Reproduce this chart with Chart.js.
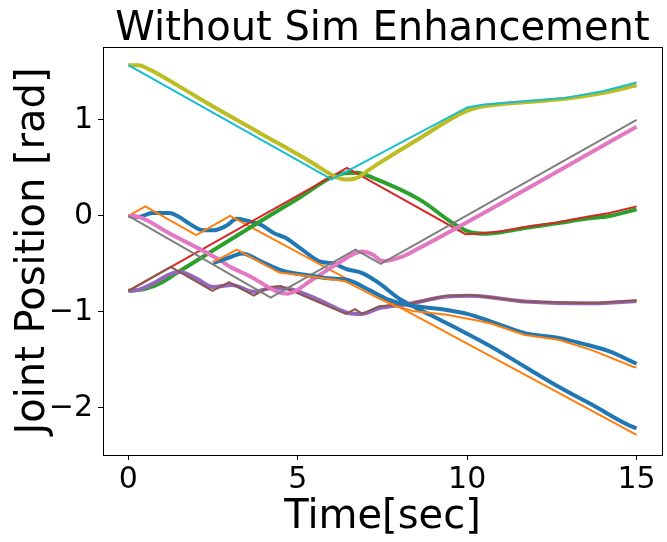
<!DOCTYPE html>
<html>
<head>
<meta charset="utf-8">
<script src="https://cdn.jsdelivr.net/npm/chart.js"></script>
<style>
  body { margin: 0; background: #fff; }
  canvas { display: block; }
</style>
</head>
<body>
<canvas id="myChart" width="667" height="542"></canvas>
<script>
// joint 1
const act1T = [0, 0.3, 0.7, 1.2, 1.5, 1.8, 2.2, 2.5, 2.9, 3.2, 3.5, 3.9, 4.3, 4.65, 5.05, 5.7, 6.0, 6.45, 6.9, 7.4, 7.95, 8.4, 8.9, 9.8, 10.7, 11.7, 12.7, 13.7, 14.9, 15];
const act1V = [0, -0.01, 0.03, 0.03, -0.01, -0.08, -0.15, -0.15, -0.10, -0.03, -0.05, -0.09, -0.18, -0.23, -0.33, -0.48, -0.49, -0.555, -0.595, -0.70, -0.85, -0.94, -1.03, -1.19, -1.36, -1.57, -1.78, -1.97, -2.20, -2.21];
const tgt1T = [0, 0.5, 2, 3, 15];
const tgt1V = [0, 0.1, -0.2, 0, -2.28];
// joint 2
const act2T = [0, 0.5, 1, 1.4, 5, 6.3, 6.75, 7.2, 8.6, 9.6, 10.1, 10.6, 11.0, 11.8, 12.6, 13.5, 14.2, 15];
const act2V = [-0.78, -0.76, -0.69, -0.60, 0.18, 0.44, 0.45, 0.40, 0.17, -0.08, -0.17, -0.185, -0.17, -0.12, -0.08, -0.03, 0.0, 0.07];
const tgt2T = [0, 6.45, 9.95, 10.3, 11.0, 11.8, 12.6, 13.5, 14.2, 15];
const tgt2V = [-0.78, 0.5, -0.19, -0.185, -0.16, -0.11, -0.07, -0.01, 0.03, 0.10];
// joint 3
const act3T = [0, 0.3, 0.8, 1.2, 1.5, 2.0, 2.5, 3.05, 3.7, 4.25, 4.75, 5.4, 5.95, 6.5, 6.9, 7.4, 8.2, 9.4, 10.1, 11.7, 13.7, 15];
const act3V = [-0.78, -0.77, -0.69, -0.61, -0.58, -0.65, -0.74, -0.72, -0.79, -0.75, -0.76, -0.84, -0.93, -1.01, -1.02, -0.96, -0.92, -0.84, -0.83, -0.89, -0.91, -0.885];
const tgt3T = [0, 1.25, 2.48, 2.97, 3.7, 4.15, 4.5, 6.42, 6.69, 6.9, 7.4, 8.3, 9.4, 10.2, 11.7, 13.7, 15];
const tgt3V = [-0.78, -0.53, -0.78, -0.69, -0.83, -0.74, -0.73, -1.02, -0.97, -1.02, -0.94, -0.915, -0.83, -0.825, -0.89, -0.91, -0.88];
// joint 4
const act4T = [0, 0.3, 1.2, 2.7, 3.0, 3.6, 4.4, 4.7, 5.4, 6.2, 6.9, 7.2, 7.5, 8.1, 8.5, 15];
const act4V = [0, -0.01, -0.18, -0.46, -0.53, -0.63, -0.79, -0.81, -0.67, -0.49, -0.37, -0.40, -0.47, -0.42, -0.35, 0.93];
const tgt4T = [0, 4.2, 6.7, 7.45, 15];
const tgt4V = [0, -0.85, -0.35, -0.5, 1.0];
// joint 5
const act5T = [0, 0.3, 0.6, 1.5, 2.4, 3.9, 5.35, 6.1, 6.4, 6.7, 7.1, 7.4, 8.6, 9.95, 10.45, 11.5, 12.9, 14, 15];
const act5V = [1.57, 1.57, 1.53, 1.35, 1.16, 0.86, 0.57, 0.41, 0.38, 0.39, 0.48, 0.55, 0.81, 1.09, 1.14, 1.18, 1.22, 1.28, 1.36];
const tgt5T = [0, 6.0, 10, 10.5, 11.5, 12.9, 14, 15];
const tgt5V = [1.57, 0.38, 1.13, 1.16, 1.19, 1.23, 1.3, 1.39];
// joint 6
const act6T = [2.5, 3.0, 3.35, 3.95, 4.55, 5.15, 5.9, 6.5, 7.1, 7.7, 8.3, 9.4, 10.0, 10.7, 11.7, 12.7, 13.4, 14.2, 15];
const act6V = [-0.49, -0.43, -0.39, -0.48, -0.57, -0.61, -0.65, -0.67, -0.77, -0.875, -0.93, -0.98, -1.02, -1.10, -1.22, -1.27, -1.33, -1.41, -1.54];
const tgt6T = [2.5, 3.2, 4.45, 5.4, 6.4, 6.9, 7.4, 7.9, 8.4, 9.4, 10.3, 10.7, 11.7, 12.7, 13.7, 14.9, 15];
const tgt6V = [-0.48, -0.35, -0.59, -0.63, -0.68, -0.77, -0.86, -0.94, -0.99, -1.03, -1.09, -1.12, -1.24, -1.29, -1.40, -1.57, -1.58];

const xTicks = [0, 5, 10, 15];
const yTicks = [-2, -1, 0, 1];

function pts(t, v) {
    return t.map((x, i) => ({x: x, y: v[i]}));
}

// matplotlib order: actual, target per joint, tab10 colours
const series = [
    [act1T, act1V, '#1f77b4', true],
    [tgt1T, tgt1V, '#ff7f0e', false],
    [act2T, act2V, '#2ca02c', true],
    [tgt2T, tgt2V, '#d62728', false],
    [act3T, act3V, '#9467bd', true],
    [tgt3T, tgt3V, '#8c564b', false],
    [act4T, act4V, '#e377c2', true],
    [tgt4T, tgt4V, '#7f7f7f', false],
    [act5T, act5V, '#bcbd22', true],
    [tgt5T, tgt5V, '#17becf', false],
    [act6T, act6V, '#1f77b4', true],
    [tgt6T, tgt6V, '#ff7f0e', false],
];

const datasets = series.map((s, i) => ({
    data: pts(s[0], s[1]),
    borderColor: s[2],
    borderWidth: s[3] ? 4 : 2,
    pointRadius: 0,
    fill: false,
    tension: 0,
    cubicInterpolationMode: s[3] ? 'monotone' : 'default',
    order: series.length - i, // later ones on top
}));

Chart.defaults.font.family = 'DejaVu Sans';
Chart.defaults.color = '#000';

const frame = {
    id: 'frame',
    afterDraw(chart) {
        const {ctx, chartArea: a} = chart;
        ctx.save();
        ctx.strokeStyle = '#000';
        ctx.lineWidth = 1;
        ctx.strokeRect(Math.round(a.left) + 0.5, Math.round(a.top) + 0.5, Math.round(a.right - a.left), Math.round(a.bottom - a.top));
        ctx.restore();
    }
};

const minus = v => (v < 0 ? '\u2212' + Math.abs(v) : '' + v);

new Chart(document.getElementById('myChart'), {
    type: 'line',
    data: {datasets: datasets},
    plugins: [frame],
    options: {
        responsive: false,
        animation: false,
        layout: {padding: {left: 0, right: 5, top: 0, bottom: 0}},
        plugins: {
            legend: {display: false},
            tooltip: {enabled: false},
            title: {
                display: true,
                text: 'Without Sim Enhancement',
                fullSize: false,
                color: '#000',
                font: {size: 40, weight: 'normal', lineHeight: 0.8},
                padding: {top: 14, bottom: 1}
            }
        },
        scales: {
            x: {
                type: 'linear',
                min: -0.75,
                max: 15.75,
                afterBuildTicks: s => { s.ticks = xTicks.map(v => ({value: v})); },
                afterFit: s => { s.height = 87; },
                ticks: {font: {size: 30}, color: '#000', padding: 2, maxRotation: 0, callback: minus},
                grid: {drawOnChartArea: false, drawTicks: true, tickLength: 5, color: '#000'},
                border: {display: true, color: '#000', width: 1},
                title: {display: true, text: 'Time[sec]', font: {size: 40}, color: '#000', padding: {top: 0, bottom: 0}}
            },
            y: {
                type: 'linear',
                min: -2.49,
                max: 1.76,
                afterBuildTicks: s => { s.ticks = yTicks.map(v => ({value: v})); },
                afterFit: s => { s.width = 103; },
                ticks: {font: {size: 30}, color: '#000', padding: 5, callback: minus},
                grid: {drawOnChartArea: false, drawTicks: true, tickLength: 5, color: '#000'},
                border: {display: true, color: '#000', width: 1},
                title: {display: true, text: 'Joint Position [rad]', font: {size: 40}, color: '#000', padding: {top: 10, bottom: 0}}
            }
        }
    }
});
</script>
</body>
</html>
